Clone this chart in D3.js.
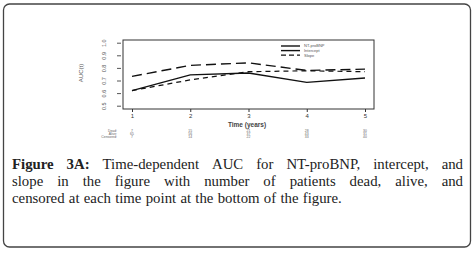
<!DOCTYPE html>
<html>
<head>
<meta charset="utf-8">
<script src="https://cdn.jsdelivr.net/npm/d3@7"></script>
<style>
    body { margin: 0; background: #fff; }
    svg text { font-family: "Liberation Sans", Arial, sans-serif; }
</style>
</head>
<body>
<div id="chart-area"></div>
<script>

// time points (years)
let years = [1, 2, 3, 4, 5];

// AUC(t) per series
let ntProBNP = [0.62, 0.745, 0.76, 0.685, 0.72];
let intercept = [0.733, 0.82, 0.84, 0.78, 0.79];
let slope = [0.62, 0.705, 0.77, 0.777, 0.77];

let seriesNames = ["NT-proBNP", "Intercept", "Slope"];
let yTicks = [0.5, 0.6, 0.7, 0.8, 0.9, 1.0];

// numbers at risk table
let riskLabels = ["Dead:", "Alive:", "Censored:"];
let dead = [7, 15, 21, 28, 30];
let alive = [65, 56, 37, 43, 31];
let censored = [7, 14, 22, 33, 40];

// caption, one entry per printed line
let captionLines = [
    "Figure 3A: Time-dependent AUC for NT-proBNP, intercept, and",
    "slope in the figure with number of patients dead, alive, and",
    "censored at each time point at the bottom of the figure."
];


class AucVis {

    constructor(_parentElement) {
        this.parentElement = _parentElement;
        this.initVis();
    }

    initVis() {
        let vis = this;

        vis.width = 475;
        vis.height = 253;

        vis.svg = d3.select("#" + vis.parentElement).append("svg")
            .attr("width", vis.width)
            .attr("height", vis.height);

        // outer frame
        vis.svg.append("rect")
            .attr("x", 3.5).attr("y", 4)
            .attr("width", 467).attr("height", 243)
            .attr("rx", 6)
            .attr("fill", "none")
            .attr("stroke", "#444")
            .attr("stroke-width", 1.3);

        // plot box
        vis.box = {left: 123, right: 374, top: 40, bottom: 109};

        vis.x = d3.scaleLinear().domain([1, 5]).range([132, 365]);
        vis.y = d3.scaleLinear().domain([0.5, 1.0]).range([105.7, 42.7]);

        vis.svg.append("rect")
            .attr("x", vis.box.left).attr("y", vis.box.top)
            .attr("width", vis.box.right - vis.box.left)
            .attr("height", vis.box.bottom - vis.box.top)
            .attr("fill", "none")
            .attr("stroke", "#333")
            .attr("stroke-width", 1);

        // y axis (R style, labels turned)
        let yAxis = d3.axisLeft(vis.y).tickValues(yTicks).tickSize(4)
            .tickFormat(d3.format(".1f"));
        let yg = vis.svg.append("g")
            .attr("transform", `translate(${vis.box.left - 2},0)`)
            .call(yAxis);
        yg.select(".domain").remove();
        yg.selectAll("line").attr("stroke", "#555");
        yg.selectAll("text")
            .attr("font-size", 5.5)
            .attr("fill", "#555")
            .attr("text-anchor", "middle")
            .attr("x", -17).attr("dy", "0.35em")
            .attr("transform", "rotate(-90, -17, 0)");

        vis.svg.append("text")
            .attr("transform", `translate(81,73) rotate(-90)`)
            .attr("text-anchor", "middle")
            .attr("dy", "0.35em")
            .attr("font-size", 6)
            .attr("fill", "#555")
            .text("AUC(t)");

        // x axis
        let xAxis = d3.axisBottom(vis.x).tickValues(years).tickSize(3).tickPadding(2)
            .tickFormat(d3.format("d"));
        let xg = vis.svg.append("g")
            .attr("transform", `translate(0,${vis.box.bottom})`)
            .call(xAxis);
        xg.select(".domain").remove();
        xg.selectAll("line").attr("stroke", "#333");
        xg.selectAll("text").attr("font-size", 6).attr("fill", "#333");

        vis.svg.append("text")
            .attr("x", 247).attr("y", 127)
            .attr("text-anchor", "middle")
            .attr("font-size", 6.5)
            .attr("font-weight", "bold")
            .attr("fill", "#444")
            .text("Time (years)");

        // risk table
        let rows = [dead, alive, censored];
        let rowY = [132, 135, 138];
        rows.forEach((vals, i) => {
            vis.svg.append("text")
                .attr("x", 117).attr("y", rowY[i])
                .attr("text-anchor", "end")
                .attr("font-size", 3.4)
                .attr("fill", "#666")
                .text(riskLabels[i]);
            vis.svg.selectAll(".risk" + i)
                .data(vals)
                .enter().append("text")
                .attr("class", "risk" + i)
                .attr("x", (d, j) => vis.x(years[j]))
                .attr("y", rowY[i])
                .attr("text-anchor", "middle")
                .attr("font-size", 3.4)
                .attr("fill", "#666")
                .text(d => d);
        });

        vis.series = [
            {name: seriesNames[0], values: ntProBNP, dash: null, width: 1.4},
            {name: seriesNames[1], values: intercept, dash: "10,5", width: 1.4},
            {name: seriesNames[2], values: slope, dash: "5,4", width: 1.2}
        ];

        vis.line = d3.line()
            .x((d, i) => vis.x(years[i]))
            .y(d => vis.y(d));

        vis.updateVis();
    }

    updateVis() {
        let vis = this;

        vis.svg.selectAll(".series")
            .data(vis.series)
            .enter().append("path")
            .attr("class", "series")
            .attr("d", d => vis.line(d.values))
            .attr("fill", "none")
            .attr("stroke", "#111")
            .attr("stroke-width", d => d.width)
            .attr("stroke-dasharray", d => d.dash);

        // legend
        let legend = vis.svg.selectAll(".legend")
            .data(vis.series)
            .enter().append("g")
            .attr("class", "legend")
            .attr("transform", (d, i) => `translate(281,${46 + i * 4.6})`);

        legend.append("line")
            .attr("x1", 0).attr("x2", 19)
            .attr("stroke", "#111")
            .attr("stroke-width", d => d.width)
            .attr("stroke-dasharray", d => d.dash ? (d.dash === "10,5" ? "20,0" : "5,3") : null);

        legend.append("text")
            .attr("x", 23).attr("dy", "0.35em")
            .attr("font-size", 4)
            .attr("fill", "#555")
            .text(d => d.name);

        vis.drawCaption();
    }

    drawCaption() {
        let vis = this;

        let left = 12, right = 463, lineH = 17, y0 = 169, fontSize = 14.8;
        let cap = vis.svg.append("g").attr("fill", "#222");

        let lines = captionLines.map(l => l.split(" ").map((t, i) => ({t: t, b: l === captionLines[0] && i < 2})));

        let probe = cap.append("text").style("font-family", "'Liberation Serif', serif").attr("font-size", fontSize);
        let measure = (t, b) => {
            probe.attr("font-weight", b ? "bold" : "normal").text(t);
            return probe.node().getComputedTextLength();
        };
        lines.forEach(ln => ln.forEach(w => { w.w = measure(w.t, w.b); }));
        probe.text("a a").attr("font-weight", "normal");
        let space = probe.node().getComputedTextLength() - 2 * measure("a", false);
        probe.remove();
        space = Math.max(space, fontSize * 0.25);

        lines.forEach((ln, li) => {
            let total = d3.sum(ln, w => w.w);
            let gap = li < lines.length - 1 ? (right - left - total) / (ln.length - 1) : space * 1.15;
            let xPos = left;
            ln.forEach(w => {
                cap.append("text")
                    .attr("x", xPos)
                    .attr("y", y0 + li * lineH)
                    .attr("font-size", fontSize)
                    .attr("font-weight", w.b ? "bold" : "normal")
                    .style("font-family", "'Liberation Serif', serif")
                    .text(w.t);
                xPos += w.w + gap;
            });
        });
    }
}

let aucVis = new AucVis("chart-area");

</script>
</body>
</html>
